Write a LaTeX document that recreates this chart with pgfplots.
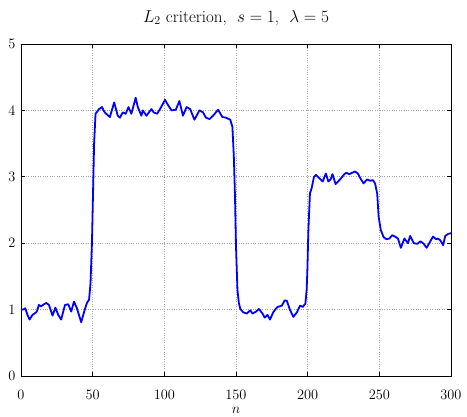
\documentclass[border=0pt]{standalone}
\usepackage{pgfplots}
\pgfplotsset{compat=1.18}
\begin{document}
\begin{tikzpicture}
\begin{axis}[
  scale only axis,
  width=430bp, height=332bp,
  xmin=0, xmax=300, ymin=0, ymax=5,
  xtick={0,50,...,300}, ytick={0,1,...,5},
  tick align=inside,
  tick pos=both,
  major tick length=4bp,
  grid=major,
  major grid style={gray!70, dotted, line width=0.6pt},
  axis line style={black, line width=0.8pt},
  tick style={black, line width=0.6pt},
  ticklabel style={font=\fontsize{14.5}{17}\selectfont},
  xticklabel style={anchor=center, yshift=-19bp},
  yticklabel style={anchor=center, xshift=-9bp},
  title={$L_2$ criterion, \ $s = 1$, \ $\lambda = 5$},
  title style={font=\fontsize{17}{20}\selectfont, at={(axis description cs:0.5,1)}, anchor=center, yshift=20bp},
  xlabel={$n$},
  xlabel style={font=\fontsize{15}{18}\selectfont, at={(axis description cs:0.5,0)}, anchor=center, yshift=-34bp},
  clip=true,
]
\addplot[blue, line width=1.8pt, line join=round] coordinates {
(0,1.0) (1.5,1.0) (3,1.02) (4.5,0.92) (6,0.85) (8,0.92) (10,0.95) (11,0.97)
(12.5,1.07) (14,1.05) (16,1.08) (17.7,1.1) (19.5,1.07) (22,0.91) (24,1.03)
(26,0.92) (28,0.85) (30.7,1.07) (33,1.08) (35,0.97) (37,1.12) (39,1.02)
(42,0.81) (44.5,1.0) (46,1.1) (47.5,1.15) (48.5,1.4) (49.5,2.0) (50.5,3.0)
(51,3.5) (52,3.95) (54.5,4.02) (56.5,4.05) (58.4,3.97) (62,3.9) (65,4.12)
(67.5,3.92) (69,3.89) (71,3.97) (73,3.95) (75,4.05) (77,3.95) (80,4.19)
(81.5,4.05) (84,3.92) (85,4.0) (87.5,3.92) (91,4.02) (92.5,3.97) (95,3.95)
(97,4.02) (100.5,4.16) (102,4.1) (105,4.0) (108,4.01) (110.5,4.14) (113,3.92)
(115.5,4.05) (118,4.02) (121,3.86) (124.5,4.0) (127,3.97) (129,3.89)
(131.5,3.87) (134,3.92) (137.5,4.01) (140.5,3.9) (143,3.89) (146,3.86)
(147.5,3.75) (148.5,3.3) (149.3,2.7) (150,1.95) (151,1.3) (152,1.1) (153,1.01)
(155,0.96) (157.5,0.94) (160,0.99) (161.5,0.94) (164,0.97) (166,1.01)
(168.5,0.94) (170,0.88) (172,0.92) (173.7,0.85) (176,0.96) (177.7,1.01)
(179,1.04) (182,1.06) (184,1.14) (185.5,1.13) (187.6,1.0) (190,0.89)
(192.5,0.96) (194.7,1.06) (196.5,1.04) (198.4,1.09) (199.3,1.3) (199.8,1.6)
(200.5,2.2) (201.6,2.75) (202.8,2.83) (204.4,3.0) (205.8,3.03) (208,2.98)
(210.5,2.93) (212.7,3.05) (214.4,2.93) (216,2.96) (217.3,3.04) (219.5,2.89)
(223,2.97) (225.6,3.04) (227,3.06) (229,3.04) (231,3.06) (233,3.08) (235,3.05)
(236.7,2.98) (239,2.9) (241.4,2.96) (243.7,2.94) (245.5,2.95) (247,2.9)
(248.5,2.75) (249.5,2.4) (251,2.2) (253,2.09) (255,2.06) (257,2.07) (259,2.12)
(261,2.1) (263,2.07) (265,1.93) (267.5,2.07) (270,2.0) (271.5,2.11) (274,2.0)
(276.5,1.99) (278.7,2.03) (281,1.99) (283,1.93) (285.6,2.03) (287.5,2.1)
(289.6,2.06) (291,2.07) (292.6,2.04) (294.5,1.97) (296,2.11) (298,2.14)
(300,2.15)
};
\coordinate (bl) at (rel axis cs:0,0);
\coordinate (tr) at (rel axis cs:1,1);
\end{axis}
\pgfresetboundingbox
\path[use as bounding box] ([shift={(-21bp,-41bp)}]bl) rectangle ([shift={(16bp,44bp)}]tr);
\end{tikzpicture}
\end{document}
